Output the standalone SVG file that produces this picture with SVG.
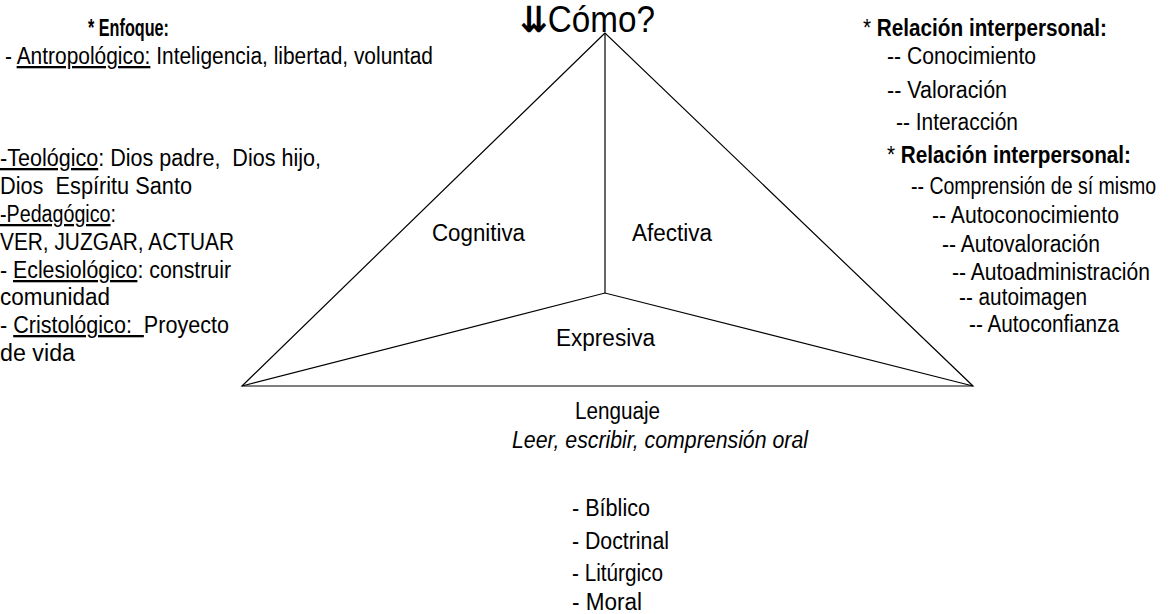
<svg xmlns="http://www.w3.org/2000/svg" width="1173" height="614" viewBox="0 0 1173 614">
<style>
text{font-family:"Liberation Sans Narrow","Liberation Sans",Arial,sans-serif;font-size:23px;fill:#000;white-space:pre}
.b{font-weight:bold}
.i{font-style:italic}
.u{text-decoration:underline}
.ln{stroke:#000;stroke-width:1.2;fill:none}
</style>
<rect width="1173" height="614" fill="#fff"/>
<g id="connectors">
<path class="ln" d="M605,33 L242,386 L973,386 Z"/>
<path class="ln" d="M605,33 L605,293"/>
<path class="ln" d="M242,386 L605,293 L973,386"/>
</g>
<g id="title"><text x="520" y="32" style="font-size:36px" textLength="135" lengthAdjust="spacingAndGlyphs"><tspan style="font-family:'DejaVu Sans',sans-serif;font-weight:bold">⇊</tspan>Cómo?</text></g>
<g id="left">
<text class="b" x="88" y="36" textLength="81" lengthAdjust="spacingAndGlyphs">* Enfoque:</text>
<text x="5" y="64" textLength="428" lengthAdjust="spacingAndGlyphs">- <tspan class="u">Antropológico:</tspan> Inteligencia, libertad, voluntad</text>
<text x="0" y="166" textLength="321" lengthAdjust="spacingAndGlyphs"><tspan class="u">-Teológico</tspan>: Dios padre,  Dios hijo,</text>
<text x="0" y="194" textLength="192" lengthAdjust="spacingAndGlyphs">Dios  Espíritu Santo</text>
<text x="0" y="222" textLength="116" lengthAdjust="spacingAndGlyphs"><tspan class="u">-Pedagógico</tspan>:</text>
<text x="0" y="250" textLength="234" lengthAdjust="spacingAndGlyphs">VER, JUZGAR, ACTUAR</text>
<text x="0" y="278" textLength="231" lengthAdjust="spacingAndGlyphs">- <tspan class="u">Eclesiológico</tspan>: construir</text>
<text x="0" y="305" textLength="110" lengthAdjust="spacingAndGlyphs">comunidad</text>
<text x="0" y="333" textLength="229" lengthAdjust="spacingAndGlyphs">- <tspan class="u">Cristológico:  </tspan>Proyecto</text>
<text x="0" y="361" textLength="75" lengthAdjust="spacingAndGlyphs">de vida</text>
</g>
<g id="right">
<text x="863" y="36" textLength="244" lengthAdjust="spacingAndGlyphs">* <tspan class="b">Relación interpersonal:</tspan></text>
<text x="887" y="64" textLength="149" lengthAdjust="spacingAndGlyphs">-- Conocimiento</text>
<text x="887" y="98" textLength="120" lengthAdjust="spacingAndGlyphs">-- Valoración</text>
<text x="896" y="130" textLength="122" lengthAdjust="spacingAndGlyphs">-- Interacción</text>
<text x="887" y="163" textLength="244" lengthAdjust="spacingAndGlyphs">* <tspan class="b">Relación interpersonal:</tspan></text>
<text x="911" y="194" textLength="245" lengthAdjust="spacingAndGlyphs">-- Comprensión de sí mismo</text>
<text x="932" y="223" textLength="187" lengthAdjust="spacingAndGlyphs">-- Autoconocimiento</text>
<text x="942" y="252" textLength="158" lengthAdjust="spacingAndGlyphs">-- Autovaloración</text>
<text x="952" y="280" textLength="198" lengthAdjust="spacingAndGlyphs">-- Autoadministración</text>
<text x="959" y="305" textLength="128" lengthAdjust="spacingAndGlyphs">-- autoimagen</text>
<text x="969" y="332" textLength="150" lengthAdjust="spacingAndGlyphs">-- Autoconfianza</text>
</g>
<g id="cognitiva"><text x="432" y="241" textLength="93" lengthAdjust="spacingAndGlyphs">Cognitiva</text></g>
<g id="afectiva"><text x="632" y="241" textLength="80" lengthAdjust="spacingAndGlyphs">Afectiva</text></g>
<g id="expresiva"><text x="556" y="346" textLength="99" lengthAdjust="spacingAndGlyphs">Expresiva</text></g>
<g id="lenguaje">
<text x="575" y="419" textLength="85" lengthAdjust="spacingAndGlyphs">Lenguaje</text>
<text class="i" x="512" y="448" textLength="296" lengthAdjust="spacingAndGlyphs">Leer, escribir, comprensión oral</text>
</g>
<g id="dimensiones">
<text x="572" y="516" textLength="78" lengthAdjust="spacingAndGlyphs">- Bíblico</text>
<text x="572" y="549" textLength="97" lengthAdjust="spacingAndGlyphs">- Doctrinal</text>
<text x="572" y="581" textLength="91" lengthAdjust="spacingAndGlyphs">- Litúrgico</text>
<text x="572" y="610" textLength="70" lengthAdjust="spacingAndGlyphs">- Moral</text>
</g>
</svg>
